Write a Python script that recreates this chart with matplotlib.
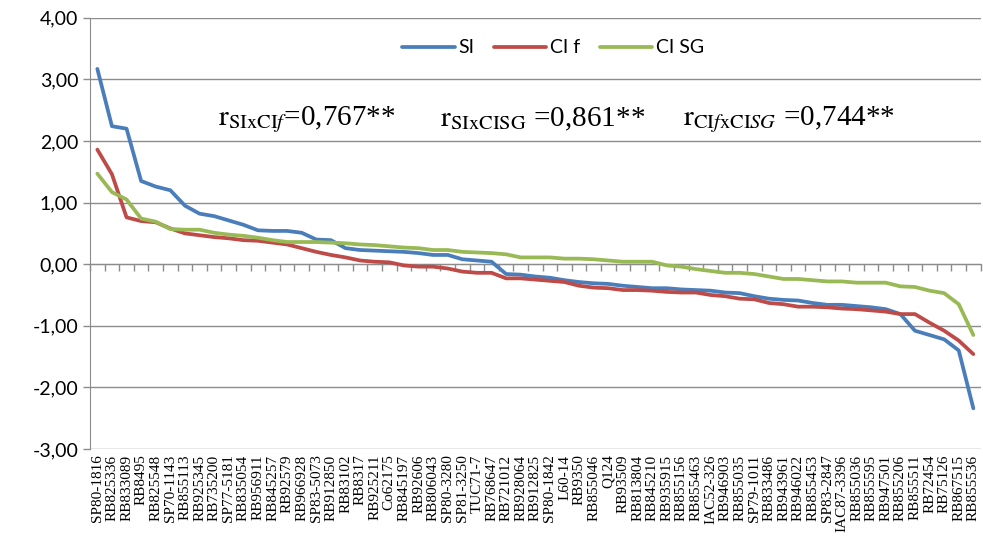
import matplotlib.pyplot as plt
import numpy as np

plt.rcParams["mathtext.fontset"] = "stix"

clones = ["SP80-1816", "RB825336", "RB833089", "RB8495", "RB825548", "SP70-1143", "RB855113",
          "RB925345", "RB735200", "SP77-5181", "RB835054", "RB956911", "RB845257", "RB92579",
          "RB966928", "SP83-5073", "RB912850", "RB83102", "RB8317", "RB925211", "Co62175",
          "RB845197", "RB92606", "RB806043", "SP80-3280", "SP81-3250", "TUC71-7", "RB768647",
          "RB721012", "RB928064", "RB912825", "SP80-1842", "L60-14", "RB9350", "RB855046",
          "Q124", "RB93509", "RB813804", "RB845210", "RB935915", "RB855156", "RB855463",
          "IAC52-326", "RB946903", "RB855035", "SP79-1011", "RB833486", "RB943961", "RB946022",
          "RB855453", "SP83-2847", "IAC87-3396", "RB855036", "RB855595", "RB947501", "RB855206",
          "RB855511", "RB72454", "RB75126", "RB867515", "RB855536"]

si = [3.17, 2.24, 2.20, 1.35, 1.26, 1.20, 0.95, 0.82, 0.78, 0.71, 0.64, 0.55, 0.54, 0.54, 0.51,
      0.40, 0.39, 0.26, 0.23, 0.22, 0.21, 0.20, 0.18, 0.15, 0.15, 0.08, 0.06, 0.04, -0.16, -0.17,
      -0.20, -0.22, -0.26, -0.29, -0.31, -0.32, -0.35, -0.37, -0.39, -0.39, -0.41, -0.42, -0.43,
      -0.46, -0.47, -0.52, -0.56, -0.58, -0.59, -0.63, -0.66, -0.66, -0.68, -0.70, -0.73, -0.81,
      -1.08, -1.15, -1.22, -1.40, -2.34]

ci_f = [1.86, 1.46, 0.76, 0.70, 0.68, 0.58, 0.50, 0.47, 0.44, 0.42, 0.39, 0.38, 0.35, 0.32,
        0.26, 0.20, 0.15, 0.11, 0.06, 0.04, 0.03, -0.02, -0.04, -0.04, -0.07, -0.12, -0.14,
        -0.14, -0.23, -0.23, -0.25, -0.27, -0.29, -0.35, -0.38, -0.39, -0.42, -0.42, -0.43,
        -0.45, -0.46, -0.46, -0.50, -0.52, -0.56, -0.57, -0.63, -0.65, -0.69, -0.69, -0.70,
        -0.72, -0.73, -0.75, -0.77, -0.81, -0.81, -0.95, -1.08, -1.24, -1.46]

ci_sg = [1.47, 1.17, 1.05, 0.74, 0.69, 0.57, 0.56, 0.56, 0.51, 0.48, 0.46, 0.43, 0.39, 0.36,
         0.36, 0.36, 0.35, 0.34, 0.32, 0.31, 0.29, 0.27, 0.26, 0.23, 0.23, 0.20, 0.19, 0.18,
         0.16, 0.11, 0.11, 0.11, 0.09, 0.09, 0.08, 0.06, 0.04, 0.04, 0.04, -0.02, -0.04, -0.08,
         -0.11, -0.14, -0.14, -0.16, -0.20, -0.24, -0.24, -0.26, -0.28, -0.28, -0.30, -0.30,
         -0.30, -0.36, -0.37, -0.43, -0.47, -0.65, -1.15]

y_ticks = [-3, -2, -1, 0, 1, 2, 3, 4]

correlations = [
    (0.144, r"$\mathrm{r}_{\mathrm{SIxCI}\mathit{f}}$=0,767**"),
    (0.393, r"$\mathrm{r}_{\mathrm{SIxCISG}}$ =0,861**"),
    (0.666, r"$\mathrm{r}_{\mathrm{CI}\mathit{f}\mathrm{xCI}\mathit{SG}}$ =0,744**"),
]

x = np.arange(len(clones))

fig = plt.figure(figsize=(9.83, 5.39), dpi=100)
ax = fig.add_axes([0.0916, 0.167, 0.906, 0.8])

ax.plot(x, si, color="#4A7EBB", lw=2.7, label="SI", solid_capstyle="round")
ax.plot(x, ci_f, color="#BE4B48", lw=2.7, label="CI f", solid_capstyle="round")
ax.plot(x, ci_sg, color="#98B954", lw=2.7, label="CI SG", solid_capstyle="round")

ax.set_xlim(-0.5, len(clones) - 0.5)
ax.set_ylim(-3, 4)
ax.set_yticks(y_ticks)
ax.set_yticklabels([f"{v:.2f}".replace(".", ",") for v in y_ticks],
                   fontsize=14, family="Lato")
ax.grid(axis="y", color="#8c8c8c", lw=1)
ax.set_axisbelow(True)

ax.set_xticks(x)
ax.set_xticklabels(clones, rotation=90, fontsize=11, family="Liberation Serif")
ax.tick_params(axis="x", length=0, pad=4)
ax.tick_params(axis="y", length=5, color="#8c8c8c", width=1)

for side in ["top", "right", "bottom"]:
    ax.spines[side].set_visible(False)
ax.spines["left"].set_color("#8c8c8c")

# category axis crossing at zero, with marks between categories
zero_axis = ax.secondary_xaxis(3 / 7)
zero_axis.set_xticks(np.arange(len(clones) + 1) - 0.5)
zero_axis.set_xticklabels([])
zero_axis.tick_params(axis="x", direction="out", length=5, color="#8c8c8c", width=1)
zero_axis.spines["bottom"].set_color("#8c8c8c")

# correlation coefficients: x in axes fraction, y in data units
for xpos, txt in correlations:
    ax.text(xpos, 2.35, txt, transform=ax.get_yaxis_transform(),
            fontsize=21, family="Liberation Serif", va="center")

ax.legend(loc="center", bbox_to_anchor=(0.52, 0.93), ncol=3, frameon=False,
          prop={"family": "Lato", "size": 14}, handlelength=2.7, columnspacing=1.0,
          handletextpad=0.2)

fig.savefig("out.png", dpi=100)
